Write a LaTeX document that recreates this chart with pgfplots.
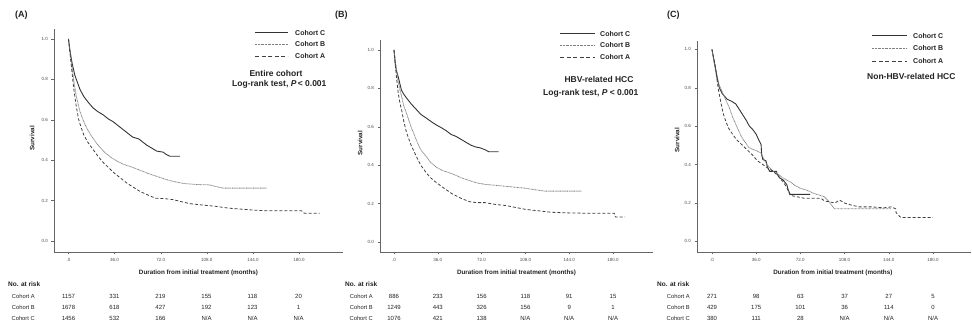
\documentclass[border=0pt]{standalone}
\usepackage{pgfplots}
\pgfplotsset{compat=1.18}
\usepackage{fontspec}
\setmainfont{Liberation Sans}
\definecolor{txt}{HTML}{222222}
\newcommand{\NA}{N/A}
\pgfplotsset{km/.style={scale only axis, axis x line*=bottom, axis y line*=left,
  axis line style={black!60, line width=0.5pt}, tick style={black!60, line width=0.4pt},
  tick align=outside, major tick length=2.5pt,
  xtick={0,36,72,108,144,180}, xticklabels={.0,36.0,72.0,108.0,144.0,180.0},
  ytick={0,0.2,0.4,0.6,0.8,1}, yticklabels={0.0,0.2,0.4,0.6,0.8,1.0},
  tick label style={font=\fontsize{4.5}{5}\selectfont, text=black!70},
  xlabel={Duration from initial treatment (months)}, ylabel={Survival},
  label style={font=\fontsize{6.3}{7}\selectfont\bfseries, text=txt},
  clip=false},
 cC/.style={black!80, line width=0.9pt},
 cB/.style={black!50, line width=0.8pt, dash pattern=on 0.8pt off 0.6pt},
 cA/.style={black!75, line width=0.8pt, dash pattern=on 3pt off 2pt}}
\begin{document}
\begin{tikzpicture}
\useasboundingbox (0,0) rectangle (972pt,328pt);
% ---------------- Panel A
\begin{axis}[km, at={(54pt,76pt)}, anchor=south west, width=289pt, height=223pt,
  xmin=-11.3, xmax=214.3, ymin=-0.054, ymax=1.0495,
  xlabel style={at={(axis description cs:0.5,-0.094)}, anchor=center},
  ylabel style={at={(axis description cs:-0.076,0.51)}, anchor=center}]
\addplot[cC] coordinates {(0,1.0)(1,0.95)(2,0.91)(3,0.875)(5,0.82)(7,0.785)(9,0.75)(12,0.715)(15,0.69)(19,0.66)(23,0.64)(27,0.625)(31,0.605)(35,0.59)(39,0.57)(43,0.55)(47,0.53)(50,0.515)(55,0.505)(58,0.49)(61,0.475)(65,0.46)(69,0.445)(74,0.44)(76,0.43)(79,0.42)(87,0.42)};
\addplot[cB] coordinates {(0,1.0)(2,0.9)(4,0.8)(6,0.72)(9,0.64)(12,0.59)(15,0.55)(19,0.51)(23,0.475)(28,0.44)(33,0.415)(38,0.395)(43,0.38)(50,0.365)(56,0.35)(62,0.335)(69,0.32)(76,0.305)(82,0.295)(90,0.285)(100,0.28)(110,0.278)(115,0.27)(121,0.262)(155,0.262)};
\addplot[cA] coordinates {(0,1.0)(2,0.88)(4,0.76)(6,0.67)(8,0.6)(10,0.56)(12,0.525)(15,0.49)(19,0.455)(23,0.42)(27,0.39)(31,0.365)(36,0.335)(41,0.31)(46,0.285)(51,0.265)(56,0.245)(62,0.228)(68,0.212)(75,0.21)(82,0.205)(88,0.195)(95,0.185)(105,0.178)(115,0.172)(125,0.163)(135,0.158)(145,0.153)(155,0.15)(170,0.15)(182,0.15)(184,0.138)(196,0.138)};
\end{axis}
% ---------------- Panel B
\begin{axis}[km, at={(380pt,76pt)}, anchor=south west, width=273pt, height=212pt,
  xmin=-11.5, xmax=212.9, ymin=-0.052, ymax=1.052,
  xlabel style={at={(axis description cs:0.5,-0.099)}, anchor=center},
  ylabel style={at={(axis description cs:-0.073,0.514)}, anchor=center}]
\addplot[cC] coordinates {(0,1.0)(1,0.93)(2,0.89)(3.5,0.86)(5,0.82)(6.2,0.79)(8,0.77)(10.3,0.75)(14,0.72)(18.4,0.69)(22,0.665)(26.6,0.645)(31,0.625)(34.7,0.61)(39,0.595)(42.8,0.58)(47,0.56)(51,0.55)(55,0.535)(59,0.52)(63,0.505)(67,0.495)(71,0.49)(75,0.48)(78,0.47)(86,0.47)};
\addplot[cB] coordinates {(0,1.0)(2,0.9)(3.5,0.83)(5,0.79)(6.2,0.76)(8,0.71)(10.3,0.67)(14,0.6)(18.4,0.53)(22,0.48)(26.6,0.445)(30,0.415)(34.7,0.39)(40,0.372)(48,0.355)(55,0.335)(62,0.32)(68,0.308)(75,0.3)(84,0.295)(92,0.29)(100,0.285)(108,0.28)(116,0.272)(124,0.265)(154,0.265)};
\addplot[cA] coordinates {(0,1.0)(2,0.86)(3.5,0.775)(5,0.72)(6.2,0.69)(8,0.63)(10.3,0.57)(14,0.505)(18.4,0.445)(22,0.4)(26.6,0.36)(30,0.335)(34.7,0.31)(40,0.285)(48,0.25)(55,0.228)(62,0.21)(68,0.205)(75,0.205)(84,0.195)(92,0.19)(100,0.18)(108,0.17)(118,0.163)(129,0.155)(140,0.152)(157,0.15)(181,0.15)(182,0.13)(190,0.13)};
\end{axis}
% ---------------- Panel C
\begin{axis}[km, at={(697pt,76pt)}, anchor=south west, width=274pt, height=211pt,
  xmin=-12.2, xmax=211, ymin=-0.055, ymax=1.044,
  xlabel style={at={(axis description cs:0.496,-0.0995)}, anchor=center},
  ylabel style={at={(axis description cs:-0.073,0.53)}, anchor=center}]
\addplot[cC] coordinates {(0,1.0)(2,0.93)(4.2,0.856)(6,0.8)(8.3,0.77)(12.5,0.74)(16,0.73)(19.4,0.716)(22,0.69)(25,0.66)(28,0.63)(30.5,0.6)(33,0.585)(36,0.558)(38,0.53)(40,0.505)(40.5,0.45)(41.5,0.426)(44,0.42)(45,0.39)(47,0.365)(52.6,0.365)(53,0.35)(55.4,0.33)(58,0.32)(61,0.295)(62,0.27)(63.7,0.245)(72,0.245)(80,0.245)};
\addplot[cB] coordinates {(0,1.0)(2,0.92)(4.2,0.84)(8.3,0.78)(11,0.74)(13.9,0.7)(17,0.645)(20.8,0.59)(24,0.545)(27.7,0.51)(30,0.49)(33,0.48)(37,0.47)(40,0.46)(43,0.42)(46,0.39)(50,0.365)(54,0.35)(58,0.33)(63.7,0.31)(68,0.29)(72,0.277)(78,0.265)(83,0.25)(88,0.24)(91.4,0.233)(95,0.21)(99.7,0.17)(146,0.17)};
\addplot[cA] coordinates {(0,1.0)(2.8,0.91)(5,0.8)(7,0.73)(9,0.67)(11,0.63)(13.5,0.59)(16.6,0.56)(20,0.53)(25,0.5)(29,0.475)(33,0.45)(37,0.42)(41.5,0.4)(46,0.38)(50,0.365)(54,0.34)(58,0.31)(61,0.28)(63.7,0.24)(75,0.225)(88.6,0.225)(92,0.21)(95.6,0.207)(100,0.2)(104,0.215)(108,0.2)(113,0.19)(120,0.18)(130,0.18)(140,0.175)(146,0.18)(149.6,0.17)(150,0.15)(153.7,0.125)(180,0.125)};
\end{axis}
% ---------------- panel letters
\begin{scope}[every node/.style={font=\fontsize{9}{10}\selectfont\bfseries, text=txt, anchor=west, inner sep=0pt}]
\node at (15pt,313pt) {(A)};
\node at (335pt,313pt) {(B)};
\node at (667pt,313pt) {(C)};
\end{scope}
% ---------------- legends
\begin{scope}[every node/.style={font=\fontsize{7}{8}\selectfont\bfseries, text=txt, anchor=west, inner sep=0pt}]
\draw[black!80, line width=1pt] (255pt,295pt) -- (288pt,295pt); \node at (295pt,295pt) {Cohort C};
\draw[black!50, line width=0.8pt, dash pattern=on 0.8pt off 0.6pt] (255pt,283.5pt) -- (288pt,283.5pt); \node at (295pt,283.5pt) {Cohort B};
\draw[black!75, line width=0.9pt, dash pattern=on 4pt off 2.6pt] (255pt,272pt) -- (288pt,272pt); \node at (295pt,272pt) {Cohort A};
\draw[black!80, line width=1pt] (560pt,294pt) -- (595pt,294pt); \node at (600pt,294pt) {Cohort C};
\draw[black!50, line width=0.8pt, dash pattern=on 0.8pt off 0.6pt] (560pt,283pt) -- (595pt,283pt); \node at (600pt,283pt) {Cohort B};
\draw[black!75, line width=0.9pt, dash pattern=on 4pt off 2.6pt] (560pt,271pt) -- (595pt,271pt); \node at (600pt,271pt) {Cohort A};
\draw[black!80, line width=1pt] (872pt,292pt) -- (907pt,292pt); \node at (913pt,292pt) {Cohort C};
\draw[black!50, line width=0.8pt, dash pattern=on 0.8pt off 0.6pt] (872pt,279.5pt) -- (907pt,279.5pt); \node at (913pt,279.5pt) {Cohort B};
\draw[black!75, line width=0.9pt, dash pattern=on 4pt off 2.6pt] (872pt,267pt) -- (907pt,267pt); \node at (913pt,267pt) {Cohort A};
\end{scope}
\begin{scope}[every node/.style={font=\fontsize{8.5}{10}\selectfont\bfseries, text=txt, inner sep=0pt}]
\node at (276pt,255pt) {Entire cohort};
\node[anchor=west] at (232pt,244pt) {Log-rank test, \textit{P}\,< 0.001};
\node at (599pt,249pt) {HBV-related HCC};
\node[anchor=west] at (543pt,235pt) {Log-rank test, \textit{P} < 0.001};
\node[anchor=west] at (867pt,252pt) {Non-HBV-related HCC};
\end{scope}
% ---------------- number at risk tables
\begin{scope}[every node/.style={text=txt, inner sep=0pt}]
\node[anchor=west, font=\fontsize{6.5}{7}\selectfont\bfseries] at (8pt,44pt) {No. at risk};
\node[anchor=west, font=\fontsize{6.5}{7}\selectfont\bfseries] at (345pt,44pt) {No. at risk};
\node[anchor=west, font=\fontsize{6.5}{7}\selectfont\bfseries] at (657pt,44pt) {No. at risk};
\foreach \lx in {35, 373, 690} {
  \node[anchor=east, font=\fontsize{5.8}{7}\selectfont] at (\lx pt,32pt) {Cohort A};
  \node[anchor=east, font=\fontsize{5.8}{7}\selectfont] at (\lx pt,21pt) {Cohort B};
  \node[anchor=east, font=\fontsize{5.8}{7}\selectfont] at (\lx pt,10pt) {Cohort C};
}
\foreach \x/\a/\b/\c in {68.5/1157/1678/1456, 114.5/331/618/532, 160.5/219/427/166, 206.5/155/192/\NA, 252.5/118/123/\NA, 298.5/20/1/\NA} {
  \node[font=\fontsize{6}{7}\selectfont] at (\x pt,32pt) {\a};
  \node[font=\fontsize{6}{7}\selectfont] at (\x pt,21pt) {\b};
  \node[font=\fontsize{6}{7}\selectfont] at (\x pt,10pt) {\c};
}
\foreach \x/\a/\b/\c in {394/886/1249/1076, 437.8/233/443/421, 481.6/156/326/138, 525.4/118/156/\NA, 569.2/91/9/\NA, 613/15/1/\NA} {
  \node[font=\fontsize{6}{7}\selectfont] at (\x pt,32pt) {\a};
  \node[font=\fontsize{6}{7}\selectfont] at (\x pt,21pt) {\b};
  \node[font=\fontsize{6}{7}\selectfont] at (\x pt,10pt) {\c};
}
\foreach \x/\a/\b/\c in {712/271/429/380, 756.2/98/175/111, 800.4/63/101/28, 844.6/37/36/\NA, 888.8/27/114/\NA, 933/5/0/\NA} {
  \node[font=\fontsize{6}{7}\selectfont] at (\x pt,32pt) {\a};
  \node[font=\fontsize{6}{7}\selectfont] at (\x pt,21pt) {\b};
  \node[font=\fontsize{6}{7}\selectfont] at (\x pt,10pt) {\c};
}
\end{scope}
\end{tikzpicture}
\end{document}
